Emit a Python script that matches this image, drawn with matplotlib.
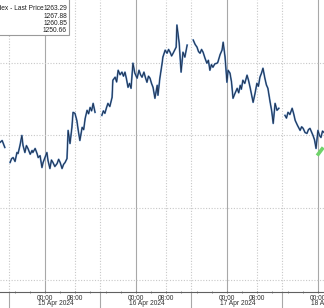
import numpy as np
import matplotlib
matplotlib.use("Agg")
import matplotlib.pyplot as plt
from matplotlib.patches import Rectangle
from matplotlib.transforms import blended_transform_factory

# hours since 15 Apr 2024 00:00, price; nan breaks between sessions
hours = [-12.5, -11.9, -11.3, -10.8, -10.6, np.nan,
         -9.2, -8.8, -8.4, -7.9, -7.4, -7.1, -6.6, -6.1, -5.8, -5.3, -4.9, -4.5, -3.9,
         -3.4, -3.2, -2.6, -2.1, -1.8, -1.3, -0.8, -0.5, 0.0, 0.5, 0.8, 1.3, 1.7, 2.1,
         2.6, 3.2, 3.6, 4.0, 4.5, 4.9, 5.3, 5.8, 6.1, 6.6, 7.1, 7.4, 7.9, 8.4, 8.8,
         9.2, 9.8, 10.2, 10.6, 11.1, 11.5, 11.9, 12.3, 12.7, 13.2, np.nan,
         15.0, 15.4, 15.8, 16.2, 16.6, 17.1, 17.7, 17.9, 18.5, 18.9, 19.3, 19.8, 20.3,
         20.7, 21.1, 21.5, 21.9, 22.3, 22.7, 23.2, 23.7, 24.3, 24.8, 25.2, 25.6, 26.1,
         26.5, 26.9, 27.3, 27.7, 28.1, 28.5, 29.0, 29.6, 29.8, 30.3, 30.9, 31.1, 31.7,
         32.2, 32.6, 33.0, 33.4, 33.8, 34.2, 34.6, 34.8, 35.4, 35.9, 36.4, 36.9, 37.5,
         np.nan,
         39.1, 39.6, 40.1, 40.5, 40.9, 41.3, 41.7, 42.2, 42.7, 43.1, 43.5, 43.9, 44.3,
         44.8, 45.4, 45.6, 46.2, 46.7, 47.0, 47.5, 48.0, 48.3, 48.8, 49.2, 49.6, 50.1,
         50.7, 51.1, 51.5, 51.8, 52.2, 52.7, 53.3, 53.7, 54.1, 54.5, 54.9, 55.4, 55.9,
         56.3, 56.7, 57.1, 57.5, 58.0, 58.4, 58.8, 59.4, 59.8, 60.2, 60.7, 61.2, 61.7,
         np.nan,
         63.3, 63.7, 64.1, 64.6, 65.2, 65.6, 66.0, 66.6, 67.3, 67.7, 68.1, 68.6, 69.1,
         69.5, 69.9, 70.3, 70.7, 71.1, 71.5, 72.0, 72.4, 72.8, 73.2, 73.6]
prices = [1259.60, 1259.51, 1259.65, 1259.31, 1259.17, np.nan,
          1258.13, 1258.40, 1258.47, 1258.20, 1258.82, 1258.75, 1259.31, 1260.00, 1259.31,
          1258.82, 1259.30, 1259.10, 1258.70, 1258.96, 1258.82, 1259.10, 1258.75, 1258.47,
          1258.60, 1257.78, 1258.13, 1258.47, 1258.82, 1258.26, 1257.71, 1258.30, 1258.13,
          1257.85, 1258.06, 1258.35, 1258.13, 1257.71, 1258.00, 1258.13, 1258.40, 1260.35,
          1259.44, 1260.56, 1261.60, 1261.53, 1261.04, 1260.30, 1259.65, 1260.56, 1260.40,
          1261.18, 1261.74, 1261.50, 1261.94, 1261.70, 1262.22, 1261.60, np.nan,
          1261.39, 1261.70, 1261.53, 1261.90, 1262.22, 1262.00, 1262.64, 1263.82, 1264.03,
          1263.70, 1264.51, 1264.20, 1264.38, 1264.10, 1264.38, 1263.90, 1263.33, 1263.60,
          1263.26, 1265.00, 1264.31, 1263.96, 1264.51, 1264.20, 1264.03, 1264.38, 1264.00,
          1263.68, 1264.10, 1263.96, 1263.60, 1263.33, 1262.57, 1263.47, 1262.78, 1263.96,
          1265.00, 1265.42, 1265.90, 1265.69, 1265.95, 1265.76, 1265.50, 1265.69, 1265.90,
          1266.11, 1267.64, 1266.39, 1264.38, 1265.76, 1265.42, 1266.25, np.nan,
          1266.60, 1266.30, 1266.11, 1265.80, 1265.69, 1265.95, 1265.76, 1265.35, 1265.00,
          1265.20, 1264.51, 1264.90, 1264.72, 1264.95, 1265.00, 1265.07, 1265.60, 1265.90,
          1266.45, 1265.42, 1263.68, 1264.51, 1264.31, 1263.70, 1262.57, 1262.90, 1263.26,
          1262.95, 1263.47, 1263.20, 1263.82, 1263.60, 1264.17, 1263.80, 1263.33, 1262.80,
          1262.29, 1262.90, 1263.61, 1263.40, 1264.03, 1264.30, 1264.65, 1263.96, 1263.50,
          1263.26, 1262.29, 1261.70, 1260.83, 1262.22, 1261.74, 1261.88, np.nan,
          1261.39, 1261.20, 1261.60, 1261.45, 1261.88, 1261.50, 1261.04, 1260.70, 1260.35,
          1260.60, 1260.49, 1260.20, 1260.14, 1260.40, 1260.49, 1260.25, 1260.00, 1259.70,
          1259.10, 1260.35, 1260.00, 1259.86, 1260.30, 1260.21]

green_hours = [71.8, 73.4]
green_prices = [1258.61, 1259.17]

legend_values = ["1263.29", "1267.88", "1260.85", "1250.66"]
day_labels = ["15 Apr 2024", "16 Apr 2024", "17 Apr 2024", "18 Apr 2024"]
midnights = [0, 24, 48, 72]
eights = [8, 32, 56]
sessions = [-9.5, 14.5, 38.5, 62.5]
price_grid = [1250, 1255, 1260, 1265]

fig = plt.figure(figsize=(3.24, 3.08), dpi=100)
ax = fig.add_axes([0, 16 / 308, 1, 292 / 308])
font = "Liberation Sans"

for h in midnights:
    ax.axvline(h, color="#a8a8a8", lw=0.8, zorder=1)
for h in eights + sessions:
    ax.axvline(h, color="#c8c8c8", lw=0.8, ls=(0, (1, 1.5)), zorder=1)
for p in price_grid:
    ax.axhline(p, color="#c8c8c8", lw=0.8, ls=(0, (1, 1.5)), zorder=1)

ax.plot(hours, prices, color="#5a88c0", lw=1.3, zorder=2)
ax.plot(hours, prices, color="#1b2c48", lw=0.6, zorder=3)
ax.plot(green_hours, green_prices, color="#6fd36a", lw=2.6, zorder=4,
        solid_capstyle="butt")

ax.set_xlim(-11.87, 73.6)
ax.set_ylim(1249.17, 1269.37)

for s in ["top", "right", "left"]:
    ax.spines[s].set_visible(False)
ax.spines["bottom"].set_color("#606060")
ax.spines["bottom"].set_linewidth(0.8)
ax.set_yticks([])
ax.set_xticks(sorted(midnights + eights))
ax.set_xticklabels(["00:00" if t % 24 == 0 else "08:00" for t in sorted(midnights + eights)],
                   fontsize=4.8, family=font, color="#303030")
ax.set_xticks(np.arange(-8, 74, 4), minor=True)
ax.tick_params(axis="x", which="major", length=2, width=0.6, pad=0.8,
               direction="inout", color="#606060")
ax.tick_params(axis="x", which="minor", length=1.5, width=0.5,
               direction="inout", color="#606060")

trans = blended_transform_factory(ax.transData, ax.transAxes)
for h, lab in zip(midnights, day_labels):
    ax.text(h - 1.85, -0.041, lab, transform=trans, ha="left", va="center",
            fontsize=4.8, family=font, color="#303030", clip_on=False)
for h in sessions:
    ax.plot([h, h], [0, -0.06], transform=trans, color="#a8a8a8", lw=0.8,
            clip_on=False)

# legend box in the corner
fig.patches.append(Rectangle((-0.01, 1 - 35 / 308), 0.01 + 69 / 324, 40 / 308,
                             transform=fig.transFigure, facecolor="white",
                             edgecolor="#9a9a9a", lw=0.8, zorder=10))
rows = [8.5, 16, 23.5, 31]
fig.text(44 / 324, 1 - rows[0] / 308, "Index - Last Price", ha="right", va="center",
         fontsize=4.8, family=font, color="#202020", zorder=11)
for r, v in zip(rows, legend_values):
    fig.text(67 / 324, 1 - r / 308, v, ha="right", va="center", fontsize=4.8,
             family=font, color="#202020", zorder=11)

fig.savefig("out.png", dpi=100)
